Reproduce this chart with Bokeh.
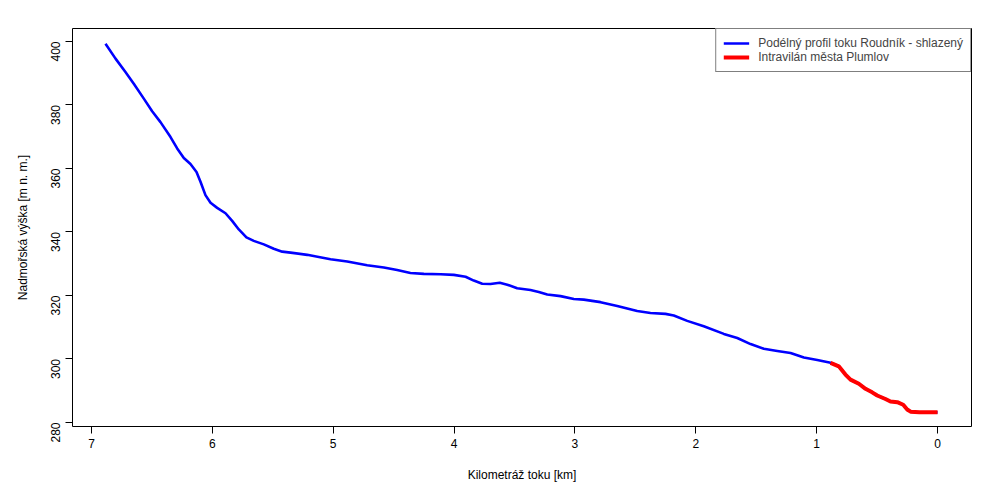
from bokeh.plotting import figure
from bokeh.models import Range1d, FixedTicker, Legend, LegendItem
from bokeh.embed import file_html
from bokeh.resources import INLINE
import math

# Longitudinal profile of Roudník stream (km from mouth, elevation m a.s.l.)
km = [6.884, 6.801, 6.719, 6.650, 6.567, 6.498, 6.429, 6.346, 6.291, 6.236, 6.181,
      6.131, 6.098, 6.057, 6.015, 5.960, 5.891, 5.836, 5.781, 5.718, 5.657, 5.574,
      5.492, 5.422, 5.353, 5.215, 5.022, 4.884, 4.719, 4.581, 4.471, 4.361, 4.250,
      4.112, 4.002, 3.905, 3.837, 3.767, 3.699, 3.622, 3.560, 3.478, 3.368, 3.299,
      3.229, 3.119, 3.009, 2.927, 2.788, 2.650, 2.485, 2.375, 2.251, 2.182, 2.071,
      1.934, 1.768, 1.657, 1.547, 1.437, 1.326, 1.216, 1.106, 0.995, 0.885,
      0.817, 0.762, 0.720, 0.651, 0.596, 0.541, 0.499, 0.431, 0.389, 0.333, 0.284,
      0.251, 0.223, 0.15, 0.0]
elev = [399.3, 394.6, 390.4, 386.7, 382.0, 378.0, 374.6, 369.9, 366.3, 363.3, 361.4,
        358.9, 355.8, 351.6, 349.2, 347.6, 345.9, 343.5, 340.8, 338.3, 337.2, 336.1,
        334.7, 333.8, 333.5, 332.8, 331.4, 330.7, 329.5, 328.8, 328.0, 327.1, 326.8,
        326.7, 326.5, 325.9, 324.7, 323.7, 323.6, 324.0, 323.4, 322.3, 321.7, 321.1,
        320.3, 319.8, 318.9, 318.7, 317.9, 316.7, 315.1, 314.5, 314.2, 313.7, 312.0,
        310.3, 307.9, 306.6, 304.7, 303.2, 302.5, 301.9, 300.5, 299.7, 298.8,
        297.7, 295.1, 293.5, 292.2, 290.6, 289.5, 288.5, 287.4, 286.6, 286.4, 285.6,
        284.1, 283.4, 283.2, 283.2]
town_limit_km = 0.885  # Intravilán města Plumlov starts here

x_ticks = [0, 1, 2, 3, 4, 5, 6, 7]
y_ticks = [280, 300, 320, 340, 360, 380, 400]

red_km = [k for k in km if k <= town_limit_km]
red_elev = [e for k, e in zip(km, elev) if k <= town_limit_km]

FONT = "Liberation Sans"

p = figure(width=984, height=484, output_backend="svg", toolbar_location=None,
           x_range=Range1d(7.157, -0.281), y_range=Range1d(278.74, 404.08),
           min_border_left=72, min_border_right=13, min_border_top=28, min_border_bottom=57)
p.background_fill_color = "white"
p.border_fill_color = "white"
p.outline_line_color = "black"
p.outline_line_width = 1
p.grid.visible = False

r_blue = p.line(km, elev, line_color="#0000ff", line_width=2.6, line_join="round")
r_red = p.line(red_km, red_elev, line_color="#ff0000", line_width=4, line_join="round")

for ax in (p.xaxis[0], p.yaxis[0]):
    ax.axis_line_color = "black"
    ax.major_tick_line_color = "black"
    ax.major_tick_out = 7
    ax.major_tick_in = 0
    ax.minor_tick_line_color = None
    ax.major_label_text_font = FONT
    ax.major_label_text_font_size = "12px"
    ax.major_label_text_color = "black"
    ax.axis_label_text_font = FONT
    ax.axis_label_text_font_size = "12px"
    ax.axis_label_text_font_style = "normal"
    ax.axis_label_text_color = "black"

p.xaxis[0].ticker = FixedTicker(ticks=x_ticks)
p.xaxis[0].bounds = (0, 7)
p.xaxis[0].axis_label = "Kilometráž toku [km]"
p.xaxis[0].major_label_standoff = 5
p.xaxis[0].axis_label_standoff = 17

p.yaxis[0].ticker = FixedTicker(ticks=y_ticks)
p.yaxis[0].bounds = (280, 400)
p.yaxis[0].axis_label = "Nadmořská výška [m n. m.]"
p.yaxis[0].major_label_orientation = math.pi / 2
p.yaxis[0].major_label_standoff = 10
p.yaxis[0].axis_label_standoff = 14

legend = Legend(items=[
    LegendItem(label="Podélný profil toku Roudník - shlazený", renderers=[r_blue]),
    LegendItem(label="Intravilán města Plumlov", renderers=[r_red]),
], location="top_right")
legend.label_text_font = FONT
legend.label_text_font_size = "12px"
legend.label_height = 14
legend.glyph_height = 14
legend.glyph_width = 26
legend.spacing = 0
legend.padding = 7
legend.margin = 0
legend.border_line_color = "black"
legend.border_line_width = 1
legend.background_fill_alpha = 1
legend.label_standoff = 9
p.add_layout(legend)

open("out.html", "w").write(file_html(p, INLINE))
